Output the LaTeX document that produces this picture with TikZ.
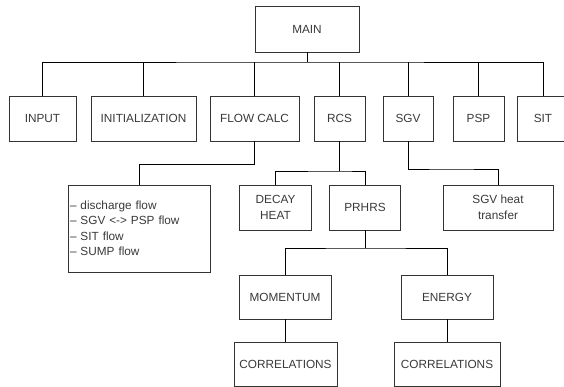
\documentclass[tikz,border=0pt]{standalone}
\usepackage{fontspec}
\setmainfont{Liberation Sans}
\usetikzlibrary{positioning,calc}
\definecolor{ink}{HTML}{3A3A3A}
\definecolor{edge}{HTML}{333333}
\tikzset{
  every node/.style={font=\fontsize{11.8}{15.5}\selectfont,text=ink},
  mod/.style={draw=edge,line width=.8pt,fill=white,align=center,inner sep=0},
  link/.style={draw=black,line width=.9pt}
}
\begin{document}
\begin{tikzpicture}[x=1pt,y=-1pt]
  \path[use as bounding box] (0,0) rectangle (564,387);
  \clip (0,0) rectangle (564,387);

  % top level
  \node[mod,minimum width=104,minimum height=46] (main) at (307,29) {MAIN};
  \node[mod,minimum width=67,minimum height=45] (input) at (42.5,118.5) {INPUT};
  \node[mod,minimum width=105,minimum height=45] (init) at (143.5,118.5) {INITIALIZATION};
  \node[mod,minimum width=89,minimum height=45] (flow) at (254.5,118.5) {FLOW CALC};
  \node[mod,minimum width=51,minimum height=45] (rcs) at (339.5,118.5) {RCS};
  \node[mod,minimum width=50,minimum height=45] (sgv) at (408,118.5) {SGV};
  \node[mod,minimum width=51,minimum height=45] (psp) at (478.5,118.5) {PSP};
  \node[mod,minimum width=52,minimum height=45] (sit) at (543,118.5) {SIT};

  % second level
  \node[mod,minimum width=142,minimum height=87,text width=138,align=left,inner sep=2] (list) at (139,228.5)
    {--\ discharge flow\\--\ SGV <-> PSP flow\\--\ SIT flow\\--\ SUMP flow};
  \node[mod,minimum width=72,minimum height=45] (decay) at (275.5,207.5) {DECAY\\HEAT};
  \node[mod,minimum width=70.5,minimum height=45] (prhrs) at (365,207.5) {PRHRS};
  \node[mod,minimum width=110,minimum height=45] (sgvht) at (498,207.5) {SGV heat\\transfer};

  % third level
  \node[mod,minimum width=92,minimum height=44] (mom) at (285,297) {MOMENTUM};
  \node[mod,minimum width=92,minimum height=44] (energy) at (447,297) {ENERGY};
  \node[mod,minimum width=103,minimum height=44] (corrm) at (285.5,364) {CORRELATIONS};
  \node[mod,minimum width=106,minimum height=44] (corre) at (447,364) {CORRELATIONS};

  % junctions
  \coordinate (bus) at (307,62);
  \coordinate (fj) at (200,164);
  \coordinate (rj) at (339.5,171);
  \coordinate (sj) at (450,169);
  \coordinate (pj) at (365,248);

  \draw[link] (main.south) -- (bus);
  \draw[link] (input.north) |- (bus) -| (sit.north);
  \foreach \n in {init,flow,rcs,sgv,psp} {\draw[link] (\n.north) -- (\n.north |- bus);}

  \draw[link] (flow.south) -- (flow.south |- fj) -| (list.north);
  \draw[link] (rcs.south) -- (rj);
  \draw[link] (decay.north) |- (rj) -| (prhrs.north);
  \draw[link] (sgv.south) |- (sj) -| (sgvht.north);

  \draw[link] (prhrs.south) -- (pj);
  \draw[link] (mom.north) |- (pj) -| (energy.north);
  \draw[link] (mom.south) -- (mom.south |- corrm.north);
  \draw[link] (energy.south) -- (corre.north);
\end{tikzpicture}
\end{document}
